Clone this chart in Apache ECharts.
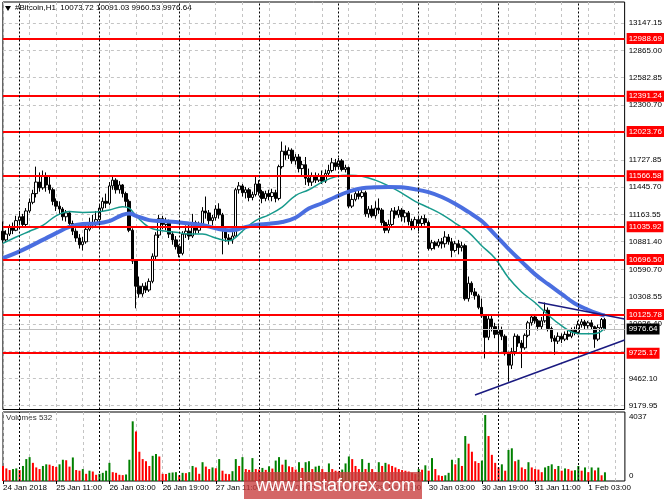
<!DOCTYPE html>
<html><head><meta charset="utf-8">
<script src="https://cdn.jsdelivr.net/npm/echarts@6/dist/echarts.min.js"></script>
<style>html,body{margin:0;padding:0;background:#fff}#c{width:665px;height:499px}</style>
</head><body><div id="c"></div>
<script>
// ---- data ----
const xTickLabels = ['24 Jan 2018','25 Jan 11:00','26 Jan 03:00','26 Jan 19:00','27 Jan 11:00','28 Jan 03:00','28 Jan 19:00','29 Jan 11:00','30 Jan 03:00','30 Jan 19:00','31 Jan 11:00','1 Feb 03:00'];
const priceTicks = [13147.15,12865.00,12582.85,12300.70,12014.30,11727.85,11445.70,11163.55,10881.40,10590.70,10308.55,10026.40,9744.25,9462.10,9179.95];
const priceLabels = [13147.15,12865.00,12582.85,12300.70,11727.85,11445.70,11163.55,10881.40,10590.70,10308.55,10026.40,9462.10,9179.95];
const levels = [12988.69,12391.24,12023.76,11566.58,11035.92,10696.50,10125.78,9725.17];
const lastPrice = 9976.64;
const volLabels = [0,4037];
const dayStarts = [5,29,53,77,101,125,149,173];
// [open, close, low, high]
const ohlc = [
[10990,10900,10870,11090],[10900,10960,10880,11000],[10960,11030,10940,11060],[11030,11000,10960,11080],[11000,11100,10990,11150],
[11100,11140,11060,11200],[11140,11060,11030,11170],[11060,11200,11040,11230],[11200,11290,11180,11330],[11290,11380,11270,11420],
[11380,11500,11340,11660],[11500,11440,11400,11600],[11440,11560,11420,11620],[11560,11470,11400,11600],[11470,11420,11380,11560],
[11420,11300,11260,11440],[11300,11250,11200,11330],[11250,11220,11160,11300],[11220,11140,11100,11240],[11140,11180,11090,11210],
[11180,11070,11040,11200],[11070,10990,10950,11100],[10990,10920,10880,11020],[10920,10850,10810,10960],[10850,10880,10790,10930],
[10880,11010,10860,11060],[11010,11080,10990,11130],[11080,11060,11020,11160],[11060,11110,11040,11200],[11110,11230,11090,11270],
[11230,11300,11200,11340],[11300,11280,11230,11380],[11280,11460,11260,11500],[11460,11520,11420,11560],[11520,11420,11380,11540],
[11420,11470,11380,11510],[11470,11380,11340,11480],[11380,11300,11240,11400],[11300,11000,10980,11320],[11000,10680,10650,11020],
[10680,10420,10190,10700],[10420,10340,10300,10520],[10340,10420,10310,10450],[10420,10380,10350,10460],[10380,10470,10360,10500],
[10470,10730,10450,10760],[10730,10950,10700,10980],[10950,11120,10920,11160],[11120,11060,11010,11150],[11060,11090,11000,11130],
[11090,10960,10920,11110],[10960,10900,10850,10990],[10900,10830,10800,10940],[10830,10760,10720,10850],[10760,10960,10740,10990],
[10960,10990,10920,11050],[10990,10940,10900,11060],[10940,11080,10920,11170],[11080,11000,10960,11100],[11000,11050,10970,11090],
[11050,11200,11030,11240],[11200,11180,11120,11350],[11180,11100,11060,11210],[11100,11130,11050,11160],[11130,11220,11100,11260],
[11220,11160,11120,11280],[11160,11000,10750,11180],[11000,10920,10880,11040],[10920,10900,10850,10960],[10900,10940,10860,10980],
[10940,11420,10920,11440],[11420,11460,11380,11500],[11460,11390,11350,11480],[11390,11420,11330,11450],[11420,11340,11300,11440],
[11340,11370,11310,11400],[11370,11480,11350,11570],[11480,11400,11360,11520],[11400,11330,11280,11420],[11330,11380,11300,11410],
[11380,11350,11310,11420],[11350,11390,11300,11430],[11390,11330,11290,11420],[11330,11660,11310,11680],[11660,11820,11640,11920],
[11820,11780,11730,11880],[11780,11830,11740,11860],[11830,11720,11690,11850],[11720,11760,11680,11790],[11760,11640,11600,11790],
[11640,11680,11560,11720],[11680,11540,11470,11760],[11540,11500,11460,11640],[11500,11560,11460,11600],[11560,11520,11490,11600],
[11520,11560,11500,11590],[11560,11510,11480,11620],[11510,11590,11490,11630],[11590,11620,11560,11680],[11620,11700,11600,11750],
[11700,11660,11620,11740],[11660,11720,11630,11750],[11720,11630,11610,11740],[11630,11650,11600,11680],[11650,11250,11230,11660],
[11250,11320,11230,11370],[11320,11380,11300,11420],[11380,11350,11320,11420],[11350,11390,11330,11440],[11390,11170,11140,11410],
[11170,11220,11130,11250],[11220,11150,11130,11260],[11150,11230,11120,11300],[11230,11210,11170,11330],[11210,11080,11050,11230],
[11080,11000,10970,11100],[11000,11060,10970,11110],[11060,11200,11040,11230],[11200,11160,11120,11240],[11160,11210,11130,11250],
[11210,11140,11090,11230],[11140,11180,11080,11210],[11180,11090,11050,11200],[11090,11040,11000,11120],[11040,11110,11010,11140],
[11110,11070,10990,11140],[11070,11120,11040,11150],[11120,11080,11050,11160],[11080,10810,10790,11100],[10810,10870,10790,10900],
[10870,10840,10800,10890],[10840,10880,10820,10910],[10880,10860,10810,10920],[10860,10930,10820,10990],[10930,10880,10850,10960],
[10880,10790,10720,10920],[10790,10860,10770,10890],[10860,10820,10750,10900],[10820,10840,10780,10880],[10840,10290,10270,10860],
[10290,10450,10260,10520],[10450,10360,10330,10470],[10360,10320,10280,10400],[10320,10200,10180,10340],[10200,10110,10090,10290],
[10110,9890,9670,10130],[9890,10080,9860,10120],[10080,10000,9950,10110],[10000,9920,9880,10040],[9920,9970,9740,10010],
[9970,9900,9860,10000],[9900,9720,9700,9920],[9720,9600,9430,9740],[9600,9740,9560,9780],[9740,9900,9700,9930],
[9900,9830,9790,9920],[9830,9780,9570,9860],[9780,9910,9760,9930],[9910,10040,9890,10060],[10040,10100,10010,10130],
[10100,10060,10030,10120],[10060,10000,9960,10080],[10000,10060,9970,10100],[10060,10170,10040,10250],[10170,9980,9950,10200],
[9980,9880,9840,10000],[9880,9850,9710,9910],[9850,9900,9820,9940],[9900,9870,9830,9930],[9870,9920,9850,9950],
[9920,9900,9860,9960],[9900,9960,9880,9990],[9960,9940,9910,10000],[9940,10020,9920,10060],[10020,10050,9990,10080],
[10050,10010,9970,10070],[10010,10040,9980,10060],[10040,10000,9970,10070],[10000,9870,9780,10010],[9870,9990,9850,10020],
[9990,10074,9960,10090],[10073.72,9976.64,9960.53,10091.03]
];
const volumes = [
920,770,670,730,770,670,920,1340,1460,1110,830,730,920,1020,1000,920,860,1020,1300,1270,880,1440,670,630,730,440,630,580,380,440,500,630,1110,540,500,380,360,400,1300,3650,3030,1790,1340,1210,920,1540,1650,1500,
440,430,500,520,540,350,500,480,540,920,830,440,1150,880,730,830,780,1340,630,440,420,600,1340,920,1460,730,680,1400,730,700,800,680,900,760,1250,1460,1000,1300,900,850,700,1150,800,1150,1210,730,
880,930,730,540,1075,730,630,600,700,1075,1500,1340,920,730,1340,730,1110,730,540,1150,920,1110,1020,920,830,730,670,630,580,500,440,730,690,960,630,1400,730,350,310,350,500,1300,1020,1400,920,
2750,2280,1790,1210,1100,1250,4037,2750,1600,1110,830,1020,630,1900,2000,1210,1300,830,730,1150,830,730,700,540,830,920,1020,730,920,630,770,730,630,660,920,630,830,540,830,650,820,350,532
];
// moving averages: [bar index, value]
const maFast = [[0,10864],[4,10930],[8,10990],[12,11050],[16,11150],[20,11195],[24,11185],[28,11190],[32,11210],[36,11245],[38,11230],[40,11150],[44,11030],[48,10995],[52,10980],[56,10960],[60,10960],[64,10920],[68,10890],[70,10925],[72,10990],[76,11100],[80,11160],[84,11240],[88,11360],[92,11420],[96,11500],[100,11555],[104,11570],[108,11560],[112,11520],[116,11460],[120,11385],[124,11300],[128,11235],[132,11165],[136,11075],[140,10980],[144,10840],[148,10710],[152,10510],[156,10360],[160,10250],[164,10120],[168,10010],[172,9935],[176,9925],[179,9935],[181,9980]];
const maSlow = [[0,10710],[4,10765],[8,10830],[12,10900],[16,10970],[20,11035],[24,11065],[28,11070],[32,11095],[36,11160],[38,11175],[40,11150],[44,11105],[48,11095],[52,11085],[56,11070],[60,11055],[64,11020],[68,11000],[70,11005],[72,11025],[76,11055],[80,11068],[84,11085],[88,11130],[92,11225],[96,11280],[100,11345],[104,11400],[108,11435],[112,11445],[116,11450],[120,11445],[124,11425],[128,11395],[132,11345],[136,11275],[140,11190],[144,11095],[148,10955],[152,10810],[156,10675],[160,10545],[164,10440],[168,10340],[172,10240],[176,10175],[179,10135],[181,10115]];
const trendUpper = [[161,10252],[187,10079]];
const trendLower = [[142,9291],[187,9861]];

// categories: hourly bars from 24 Jan 2018 19:00, plus empty slots on the right
const categories = [];
const MON = ['Jan','Feb'];
const t0 = Date.UTC(2018,0,24,19);
for (let k = 0; k < 188; k++) {
  const d = new Date(t0 + k*3600e3);
  categories.push(d.getUTCDate()+' '+MON[d.getUTCMonth()]+' '+String(d.getUTCHours()).padStart(2,'0')+':00');
}

const FONT = '"Liberation Sans", Arial, sans-serif';
const chart = echarts.init(document.getElementById('c'));
const gridLine = {show:true, lineStyle:{color:'#c4c4c4', type:[3,3], width:1}};
const vInterval = (i) => i % 8 === 0;
const sepLines = dayStarts.map(i => ({xAxis:i, lineStyle:{color:'#000', type:[2,2], width:1}, label:{show:false}}));
const last = ohlc[ohlc.length-1];

chart.setOption({
  animation:false,
  backgroundColor:'#fff',
  textStyle:{fontFamily:FONT},
  grid:[
    {left:2.9, top:2, width:622, height:407.5, show:true, borderColor:'#000', borderWidth:1},
    {left:2.9, top:412, width:622, height:69, show:true, borderColor:'#000', borderWidth:1}
  ],
  xAxis:[
    {type:'category', gridIndex:0, data:categories, boundaryGap:false, axisLine:{show:false}, axisTick:{show:false}, axisLabel:{show:false},
     splitLine:Object.assign({interval:vInterval}, gridLine)},
    {type:'category', gridIndex:1, data:categories, boundaryGap:false, axisLine:{show:false},
     axisTick:{show:true, interval:(i)=>i%16===0, length:3, lineStyle:{color:'#000'}},
     axisLabel:{interval:(i)=>i%16===0, formatter:(v,i)=>xTickLabels[i/16]||'', align:'left', fontSize:8, color:'#000', margin:3, fontFamily:FONT},
     splitLine:Object.assign({interval:vInterval}, gridLine)}
  ],
  yAxis:[
    {type:'value', gridIndex:0, position:'right', min:9140.3, max:13368.1, axisLine:{show:false},
     axisTick:{show:false, customValues:priceTicks},
     axisLabel:{customValues:priceLabels, formatter:(v)=>v.toFixed(2), fontSize:8, color:'#000', margin:4, fontFamily:FONT},
     splitLine:gridLine},
    {type:'value', gridIndex:1, position:'right', min:0, max:4220, axisLine:{show:false},
     axisTick:{show:false, customValues:volLabels},
     axisLabel:{customValues:volLabels, fontSize:8, color:'#000', margin:4, fontFamily:FONT,
       formatter:(v)=> v===0 ? '{lo|0}' : '{hi|'+v+'}',
       rich:{lo:{padding:[0,0,10,0], fontSize:8, fontFamily:FONT}, hi:{padding:[4,0,0,0], fontSize:8, fontFamily:FONT}}},
     splitLine:{show:false}}
  ],
  series:[
    {type:'candlestick', xAxisIndex:0, yAxisIndex:0, data:ohlc, barWidth:3, clip:false,
     itemStyle:{color:'#ffffff', color0:'#000000', borderColor:'#000000', borderColor0:'#000000', borderWidth:1},
     markLine:{silent:true, symbol:['none','none'], animation:false,
       label:{show:true, position:'end', distance:2, fontSize:8, fontFamily:FONT, color:'#fff', backgroundColor:'#ff0000', padding:[2,2,1,2], formatter:(p)=>Number(p.value).toFixed(2)},
       data: [].concat(
         levels.map(v => ({yAxis:v, lineStyle:{color:'#ff0000', width:2, type:'solid'}})),
         [{yAxis:lastPrice, lineStyle:{color:'#c0c0c0', width:1, type:'solid'}, label:{backgroundColor:'#000', color:'#fff'}}],
         sepLines,
         [[{coord:trendUpper[0]},{coord:trendUpper[1]}],[{coord:trendLower[0]},{coord:trendLower[1]}]].map(seg => [
           Object.assign({lineStyle:{color:'#1a1a80', width:1.5, type:'solid'}, label:{show:false}}, seg[0]), seg[1]])
       )
     }},
    {type:'line', xAxisIndex:0, yAxisIndex:0, data:maFast, smooth:0.4, showSymbol:false, lineStyle:{color:'#169a8c', width:1.5}, z:3},
    {type:'line', xAxisIndex:0, yAxisIndex:0, data:maSlow, smooth:0.4, showSymbol:false, lineStyle:{color:'#4a6ee0', width:4}, z:3},
    {type:'bar', xAxisIndex:1, yAxisIndex:1, data:volumes, barWidth:2, clip:false,
     itemStyle:{color:(p)=> (p.dataIndex>0 && volumes[p.dataIndex] > volumes[p.dataIndex-1]) ? '#008000' : '#ff0000'},
     markLine:{silent:true, symbol:['none','none'], animation:false, data:sepLines}}
  ],
  graphic:[
    {type:'polygon', shape:{points:[[5,6],[11,6],[8,11]]}, style:{fill:'#000'}},
    {type:'text', left:15, top:4, style:{text:'#Bitcoin,H1  '+[last[0],last[3],last[2],last[1]].map(v=>v.toFixed(2)).join(' '), font:'8px '+FONT, fill:'#000'}},
    {type:'text', left:6, top:414, style:{text:'Volumes '+volumes[volumes.length-1], font:'8px '+FONT, fill:'#333'}},
    {type:'rect', left:244, top:472, shape:{width:178, height:27}, style:{fill:'rgba(200,60,60,0.78)'}, z:100},
    {type:'text', left:256, top:477, style:{text:'www.instaforex.com', font:'18px '+FONT, fill:'#fff'}, z:101}
  ]
});
</script>
</body></html>
